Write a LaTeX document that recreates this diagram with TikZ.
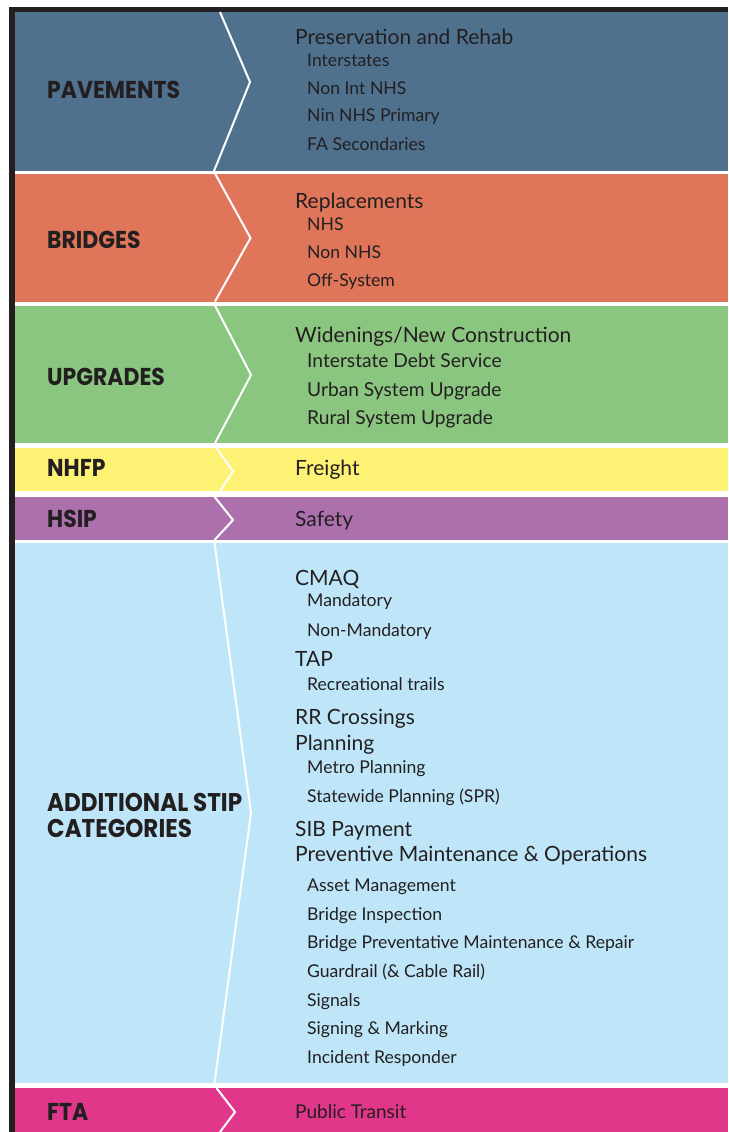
\documentclass[tikz,border=0pt]{standalone}
\usepackage{fontspec}
\setmainfont{Lato}
\newfontfamily\titlefont[FakeStretch=0.9]{Poppins}

\definecolor{ink}{HTML}{231F20}
\definecolor{pavecol}{HTML}{4F718D}
\definecolor{bridgecol}{HTML}{E07659}
\definecolor{upgradecol}{HTML}{8BC680}
\definecolor{nhfpcol}{HTML}{FEF275}
\definecolor{hsipcol}{HTML}{AC71AD}
\definecolor{addlcol}{HTML}{BEE6F8}
\definecolor{ftacol}{HTML}{E1378B}

\begin{document}
\begin{tikzpicture}[x=1pt,y=-1pt,
  chev/.style={draw=white, line width=2pt, line join=miter},
  title/.style={anchor=base west, inner sep=0pt, text=ink,
    font=\titlefont\bfseries\fontsize{24.4}{26}\selectfont},
  longtitle/.style={anchor=base west, inner sep=0pt, text=ink,
    font=\titlefont\bfseries\fontsize{25.6}{26}\selectfont},
  head/.style={anchor=base west, inner sep=0pt, text=ink,
    font=\fontsize{21}{24}\selectfont},
  midhead/.style={anchor=base west, inner sep=0pt, text=ink,
    font=\fontsize{19}{22}\selectfont},
  item/.style={anchor=base west, inner sep=0pt, text=ink,
    font=\fontsize{17.6}{20}\selectfont},
  bigitem/.style={anchor=base west, inner sep=0pt, text=ink,
    font=\fontsize{19.2}{22}\selectfont}]

\useasboundingbox (0,0) rectangle (728,1132);
\fill[white] (0,0) rectangle (728,1132);

% black frame along the top and the left edge
\fill[ink] (9,7) rectangle (728,12);
\fill[ink] (9,7) rectangle (15,1132);

% coloured bands, separated by thin white gaps
\fill[pavecol]    (15,12)     rectangle (728,171);
\fill[bridgecol]  (15,173.5)  rectangle (728,301.5);
\fill[upgradecol] (15,305.5)  rectangle (728,443);
\fill[nhfpcol]    (15,448)    rectangle (728,491);
\fill[hsipcol]    (15,496.7)  rectangle (728,540);
\fill[addlcol]    (15,542.7)  rectangle (728,1083);
\fill[ftacol]     (15,1088)   rectangle (728,1132);

% white chevrons between category and contents
\draw[chev] (220,12)     -- (250,82)    -- (214,171);
\draw[chev] (215,173.5)  -- (250.5,238) -- (215,301.5);
\draw[chev] (215,305.5)  -- (251,375)   -- (215,443);
\draw[chev] (216.5,448)  -- (233,471.5) -- (220,491);
\draw[chev] (214.5,496.7)-- (233,520)   -- (214.5,540);
\draw[chev] (214.5,542.7)-- (251,813)   -- (214.5,1083);
\draw[chev] (216.5,1088) -- (235,1112)  -- (220,1132);

% category titles
\node[title] (tpave)   at (47,99)    {PAVEMENTS};
\node[title] (tbridge) at (47,248.5) {BRIDGES};
\node[title] (tupg)    at (47,385.5) {UPGRADES};
\node[title] (tnhfp)   at (47,476)   {NHFP};
\node[title] (thsip)   at (47,527.5) {HSIP};
\node[longtitle] (taddl1) at (47,811) {ADDITIONAL STIP};
\node[longtitle] (taddl2) at (47,837) {CATEGORIES};
\node[title] (tfta)    at (47,1120)  {FTA};

% pavements
\node[head] (p0) at (295,44.7)  {Preservation and Rehab};
\node[item] (p1) at (307,66.7)  {Interstates};
\node[item] (p2) at (307,94)    {Non Int NHS};
\node[item] (p3) at (307,121.7) {Nin NHS Primary};
\node[item] (p4) at (307,150)   {FA Secondaries};

% bridges
\node[head] (b0) at (295,208.5) {Replacements};
\node[item] (b1) at (307,230)   {NHS};
\node[item] (b2) at (307,258)   {Non NHS};
\node[item] (b3) at (307,286)   {Off-System};

% upgrades
\node[head]    (u0) at (295,342.7) {Widenings/New Construction};
\node[bigitem] (u1) at (307,367.7) {Interstate Debt Service};
\node[bigitem] (u2) at (307,396)   {Urban System Upgrade};
\node[bigitem] (u3) at (307,424.5) {Rural System Upgrade};

% single-line categories
\node[head]    (n0) at (295,475.5) {Freight};
\node[head]    (h0) at (295,526.5) {Safety};
\node[midhead] (f0) at (295,1118.5) {Public Transit};

% additional STIP categories
\node[head] (a0)  at (295,585)   {CMAQ};
\node[item] (a1)  at (307,606.7) {Mandatory};
\node[item] (a2)  at (307,636)   {Non-Mandatory};
\node[head] (a3)  at (295,666.7) {TAP};
\node[item] (a4)  at (307,690.5) {Recreational trails};
\node[head] (a5)  at (295,724.5) {RR Crossings};
\node[head] (a6)  at (295,750.5) {Planning};
\node[item] (a7)  at (307,773)   {Metro Planning};
\node[item] (a8)  at (307,802)   {Statewide Planning (SPR)};
\node[head] (a9)  at (295,836.5) {SIB Payment};
\node[head] (a10) at (295,861.7) {Preventive Maintenance \& Operations};
\node[item] (a11) at (307,891.5) {Asset Management};
\node[item] (a12) at (307,920)   {Bridge Inspection};
\node[item] (a13) at (307,948.5) {Bridge Preventative Maintenance \& Repair};
\node[item] (a14) at (307,977)   {Guardrail (\& Cable Rail)};
\node[item] (a15) at (307,1006)  {Signals};
\node[item] (a16) at (307,1034)  {Signing \& Marking};
\node[item] (a17) at (307,1063)  {Incident Responder};

\end{tikzpicture}
\end{document}
